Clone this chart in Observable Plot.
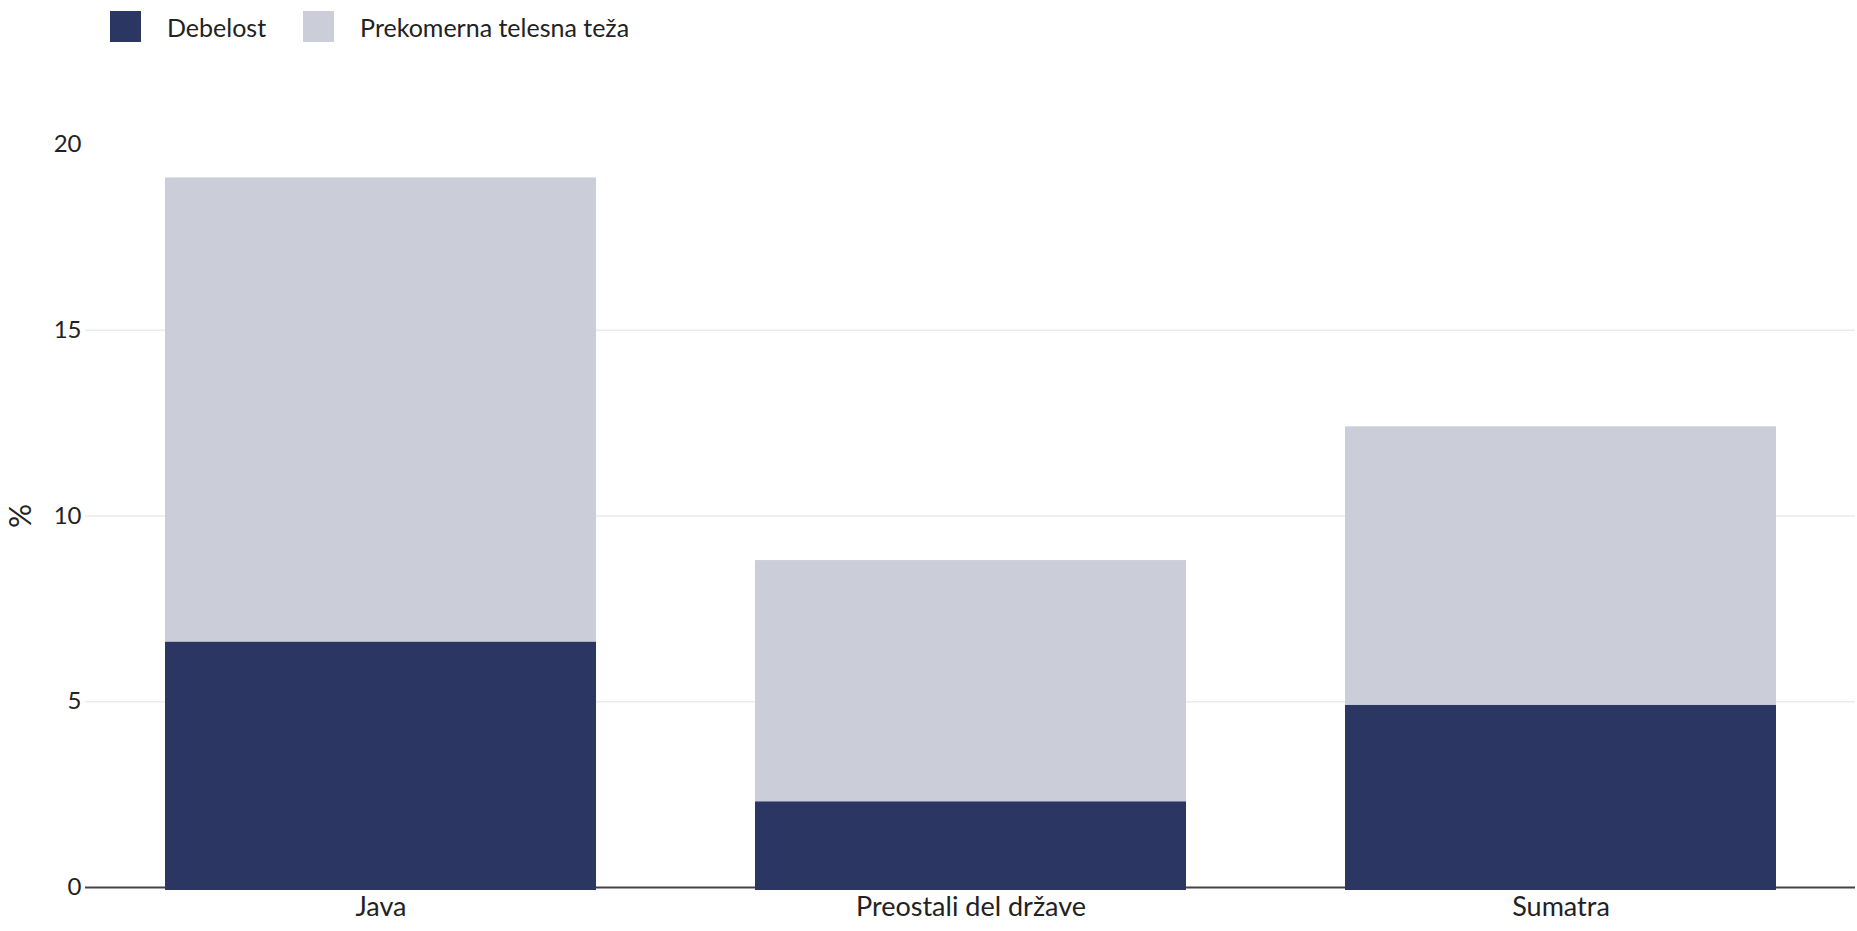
<!DOCTYPE html>
<html>
<head>
<meta charset="utf-8">
<script src="https://cdn.jsdelivr.net/npm/d3@7"></script>
<script src="https://cdn.jsdelivr.net/npm/@observablehq/plot@0.6"></script>
<style>
  html, body { margin: 0; padding: 0; background: #fff; }
  body { font-family: Lato, "Noto Sans", sans-serif; color: #222; }
  #legend { height: 60px; position: relative; display: flex; align-items: flex-start; padding-left: 110px; box-sizing: border-box; }
  .item { display: flex; align-items: center; margin-top: 11px; margin-right: 37px; font-size: 25px; }
  .sw { width: 31px; height: 31px; margin-right: 26px; }
  svg { display: block; }
</style>
</head>
<body>
<div id="legend"></div>
<div id="chart"></div>
<script>
const regions = ["Java", "Preostali del države", "Sumatra"];
const seriesNames = ["Debelost", "Prekomerna telesna teža"];
const debelost = [6.6, 2.3, 4.9];
const prekomerna = [12.5, 6.5, 7.5];
const yTicks = [0, 5, 10, 15, 20];
const gridTicks = [5, 10, 15];
const colors = ["#2b3663", "#cbcdd9"];

const data = [];
regions.forEach((r, i) => {
  data.push({region: r, series: seriesNames[0], value: debelost[i]});
  data.push({region: r, series: seriesNames[1], value: prekomerna[i]});
});
const baseData = regions.map((r, i) => ({region: r, series: seriesNames[0], value: debelost[i]}));

// legend
const legend = document.getElementById("legend");
seriesNames.forEach((s, i) => {
  const item = document.createElement("div");
  item.className = "item";
  const sw = document.createElement("div");
  sw.className = "sw";
  sw.style.background = colors[i];
  const t = document.createElement("span");
  t.textContent = s;
  item.appendChild(sw);
  item.appendChild(t);
  legend.appendChild(item);
});

const chart = Plot.plot({
  width: 1857,
  height: 871,
  marginTop: 84,
  marginBottom: 44,
  marginLeft: 85,
  marginRight: 2,
  style: { fontFamily: "Lato, 'Noto Sans', sans-serif", fontSize: "24px", color: "#222", background: "#fff" },
  x: { domain: regions, paddingInner: 0.27, paddingOuter: 0.135, label: null },
  y: { domain: [0, 20], label: null },
  color: { domain: seriesNames, range: colors },
  marks: [
    Plot.gridY(gridTicks, { stroke: "#ebebeb", strokeOpacity: 1, strokeWidth: 1.5 }),
    Plot.ruleY([0], { stroke: "#444", strokeWidth: 2 }),
    Plot.barY(data, { x: "region", y: "value", fill: "series", order: seriesNames }),
    Plot.barY(baseData, { x: "region", y: "value", fill: "series", insetBottom: -3 }),
    Plot.axisY({ ticks: yTicks, tickSize: 0, tickPadding: 4, label: "%", labelAnchor: "center", labelArrow: "none", labelOffset: 76, fontSize: 24 }),
    Plot.axisX({ tickSize: 0, tickPadding: 9, label: null, fontSize: 27 })
  ]
});
document.getElementById("chart").appendChild(chart);
// enlarge the y-axis label "%"
chart.querySelectorAll("g[aria-label='y-axis label'] text").forEach(t => t.setAttribute("font-size", 30));
</script>
</body>
</html>
